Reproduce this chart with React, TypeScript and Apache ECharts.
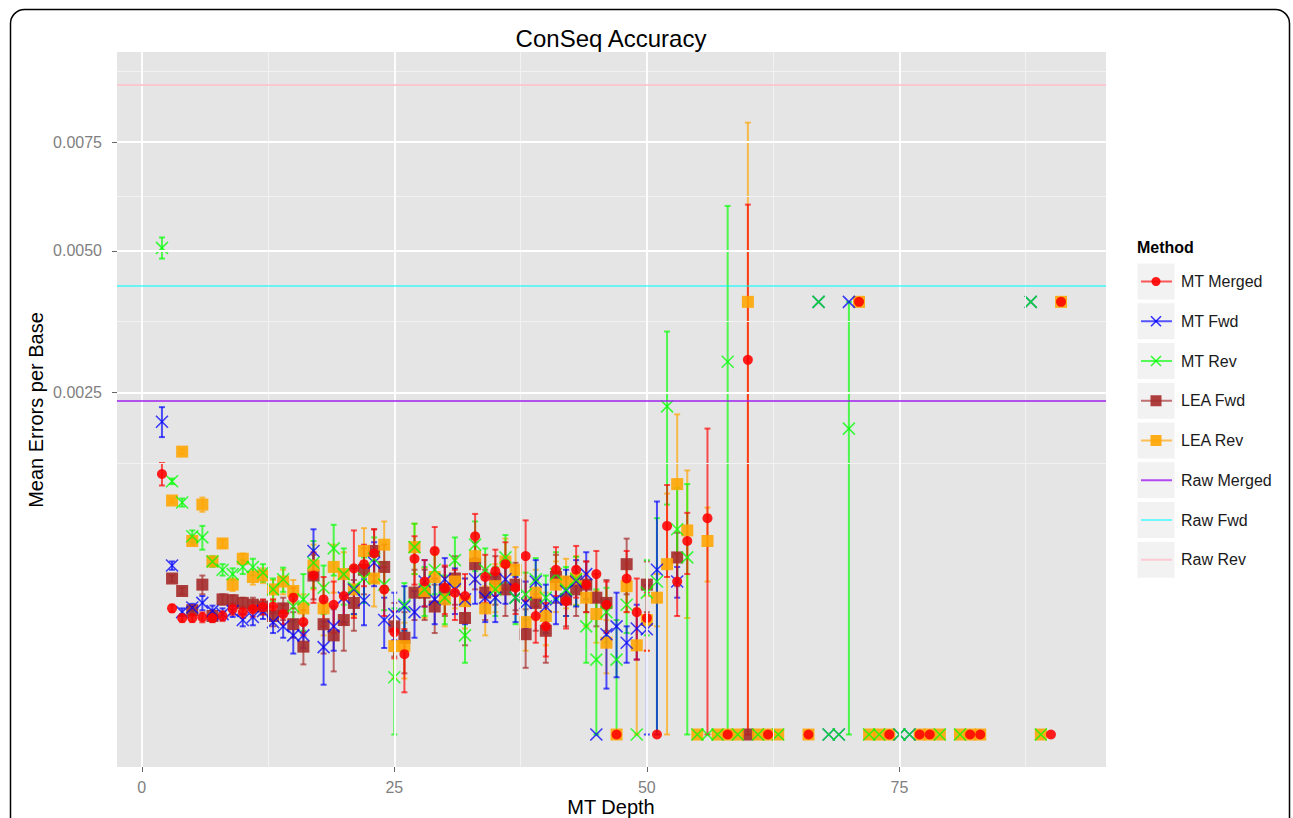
import React, { useEffect, useRef } from "react";
import * as echarts from "echarts";

// ---------------- data (Mean Errors per Base, raw values) ----------------
const mtMergedX = [2,3,4,5,6,7,8,9,10,11,12,13,14,15,16,17,18,19,20,21,22,23,24,25,26,27,28,29,30,31,32,33,34,35,36,37,38,39,40,41,42,43,44,45,46,47,48,49,50,51,52,53,54,56,58,60,62,66,71,74,77,78,82,83,90,91];
const mtMergedMean = [0.00145,0.00034,0.00029,0.00029,0.000294,0.00029,0.0003,0.000336,0.00032,0.000336,0.000347,0.00035,0.00031,0.0004,0.00027,
  0.00054,0.00039,0.00036,0.00041,0.00059,0.00062,0.0007,0.00045,0.000224,0.000138,
  0.00066,0.0005,0.00072,0.00046,0.00043,0.00041,0.00084,0.00053,0.00057,0.00062,
  0.00046,0.00068,0.0003,0.00025,0.00058,0.00038,0.00058,0.00048,0.00055,0.00036,
  0,0.00052,0.00032,0.00029,0,0.00093,0.0005,0.0008,
  0.001,0,0.003,0,0,0.004,0,0,0,0,0,0,0.004];
const mtMergedSe = [0.000125,0.00002,0.00002,0.00002,0.000025,0.00002,0.000025,0.00003,0.00003,0.00004,0.00004,0.00004,0.00005,0.00006,0.00006,
  0.00017,0.00014,0.00014,0.00015,0.0003,0.00015,0.0002,0.00015,0.0001,0.0001,
  0.00018,0.00015,0.0002,0.00015,0.00015,0.00014,0.0002,0.00016,0.00016,0.00017,
  0.00015,0.0003,0.00012,0.00012,0.00017,0.00014,0.00018,0.00016,0.00017,0.00014,
  0,0.0002,0.0002,0.00014,0,0.0004,0.0002,0.00025,
  0.001,0,0.003,0,0,0,0,0,0,0,0,0,0];

const mtFwdX = [2,3,4,5,6,7,8,9,10,11,12,13,14,15,16,17,18,19,20,21,22,23,24,25,26,27,28,29,30,31,32,33,34,35,36,37,38,39,40,41,42,43,44,45,46,47,48,49,50,51,53,67,68,69,70,75,76,88];
const mtFwdMean = [0.00209,0.00061,0.00032,0.000345,0.00037,0.000325,0.00031,0.000325,0.00028,0.000295,0.000325,0.00027,0.00025,0.00021,0.00021,
  0.00072,0.000163,0.00025,0.0004,0.00045,0.000385,0.00063,0.00028,0.00031,0.00035,
  0.00032,0.0005,0.00039,0.000515,0.00045,0.00039,0.000515,0.0004,0.0004,0.000515,
  0.0004,0.00037,0.0005,0.00035,0.00039,0.00044,0.0005,0.00055,0,0.000215,
  0.00025,0.00018,0.00024,0.000237,0.00058,
  0.0005,0.004,0,0,0.004,0,0,0.004];
const mtFwdSe = [0.0002,0.00003,0.00002,0.00002,0.00004,0.00003,0.00003,0.00003,0.00003,0.00004,0.00004,0.00005,0.00005,0.00007,0.00005,
  0.00018,0.00011,0.0001,0.00013,0.00014,0.00013,0.00016,0.00012,0.00012,0.00012,
  0.00012,0.00015,0.00013,0.00015,0.00014,0.00013,0.00015,0.00013,0.00013,0.00015,
  0.00013,0.00013,0.00015,0.00013,0.00013,0.00014,0.00015,0.00016,0,0.00017,
  0.00018,0.00007,0.00012,0.00024,0.00058,
  0.0001,0,0,0,0,0,0,0];

const mtRevX = [2,3,4,5,6,7,8,9,10,11,12,13,14,15,16,17,18,19,20,21,22,23,24,25,26,27,28,29,30,31,32,33,34,35,36,37,38,39,40,41,42,43,44,45,46,47,48,49,50,51,52,53,54,55,56,57,58,59,61,63,67,68,69,70,72,73,75,76,79,81,88,89];
const mtRevMean = [0.00506,0.00137,0.00115,0.00084,0.00083,0.00064,0.00058,0.00055,0.0006,0.0006,0.00056,0.00045,0.000515,0.00035,0.00039,
  0.00063,0.00046,0.00074,0.00055,0.00046,0.00052,0.00066,0.00048,0.00007,0.00036,
  0.00075,0.00045,0.00058,0.0004,0.00065,0.00021,0.00077,0.00058,0.00045,0.00067,
  0.0004,0.00042,0.000515,0.0004,0.00055,0.00045,0.000515,0.00025,0.00012,0.00032,
  0.00012,0.00036,0,0.00043,0.0005,0.0023,0.0009,0.00067,
  0,0,0,0.00297,0,0,0,0.004,0,0,0.002,0,0,0,0,0,0,0.004,0];
const mtRevSe = [0.00022,0.00003,0.00004,0.00005,0.0001,0.00004,0.00004,0.00004,0.00005,0.00006,0.00006,0.00007,0.00008,0.00008,0.00016,
  0.00017,0.00015,0.0002,0.00019,0.00015,0.00015,0.00017,0.00015,0.00027,0.00013,
  0.0002,0.00015,0.00016,0.00014,0.00018,0.0001,0.0002,0.00016,0.00015,0.00018,
  0.00014,0.00014,0.00015,0.00014,0.00016,0.00015,0.00016,0.00014,0.00033,0.00014,
  0.00016,0.00014,0,0.00022,0.0005,0.00117,0.0004,0.00067,
  0,0,0,0.003,0,0,0,0,0,0,0.002,0,0,0,0,0,0,0,0];

const leaFwdX = [3,4,5,6,7,8,9,10,11,12,13,14,15,16,17,18,19,20,21,22,23,24,25,26,27,28,29,30,31,32,33,34,35,36,37,38,39,40,41,42,43,44,45,46,48,50,53,60];
const leaFwdMean = [0.00052,0.00044,0.00033,0.00048,0.0003,0.00039,0.000385,0.00037,0.00036,0.00035,0.0003,0.00034,0.00026,0.000165,
  0.00054,0.00026,0.00021,0.00028,0.00037,0.00058,0.00072,0.0006,0.00025,0.0002,
  0.00043,0.00043,0.00035,0.00045,0.00052,0.00029,0.00062,0.00043,0.00052,0.00045,
  0.00048,0.000215,0.00037,0.00023,0.00053,0.00039,0.00045,0.00048,0.0004,0.00037,
  0.00062,0.00048,0.00067,0];
const leaFwdSe = [0.00002,0.00002,0.00002,0.00006,0.00003,0.00003,0.00003,0.00003,0.00004,0.00004,0.00005,0.00006,0.00006,0.00006,
  0.00015,0.00012,0.000125,0.00013,0.00014,0.00016,0.00018,0.00017,0.00012,0.00012,
  0.00015,0.00015,0.00013,0.00015,0.00016,0.00012,0.00017,0.00015,0.00016,0.00015,
  0.00015,0.00012,0.00014,0.00012,0.00016,0.00014,0.00015,0.00016,0.00015,0.00014,
  0.0002,0.00016,0.0002,0];

const leaRevX = [3,4,5,6,7,8,9,10,11,12,13,14,15,16,17,18,19,20,21,22,23,24,25,26,27,28,29,30,31,32,33,34,35,36,37,38,39,40,41,42,43,44,45,46,47,48,49,50,51,52,53,54,55,56,57,58,59,60,61,62,63,66,71,72,73,74,77,78,79,81,82,83,89,91];
const leaRevMean = [0.00117,0.00171,0.0008,0.00113,0.00064,0.00078,0.00048,0.00066,0.00053,0.00054,0.00045,0.0005,0.00044,0.00034,
  0.00061,0.00034,0.0006,0.00055,0.00045,0.00072,0.00052,0.00077,0.000167,0.000167,
  0.00075,0.00044,0.00053,0.00039,0.0005,0.00038,0.00068,0.00034,0.00047,0.00064,
  0.00058,0.00027,0.00043,0.0003,0.00048,0.0005,0.00052,0.0004,0.00031,0.00018,
  0,0.00047,0.00017,0.00028,0.0004,0.00062,0.00134,0.00089,0,0.0008,
  0,0,0,0.004,0,0,0,0,0.004,0,0,0,0,0,0,0,0,0,0,0.004];
const leaRevSe = [0.00002,0.00003,0.00003,0.00007,0.00003,0.00003,0.00004,0.00004,0.00005,0.00005,0.00006,0.00008,0.00007,0.00008,
  0.00016,0.00013,0.00017,0.00016,0.00015,0.00019,0.00017,0.0002,0.0001,0.0001,
  0.0002,0.00015,0.00016,0.00014,0.00016,0.00014,0.00018,0.00013,0.00015,0.00018,
  0.00017,0.00012,0.00015,0.00013,0.00016,0.00016,0.00016,0.00015,0.00013,0.0001,
  0,0.00015,0.00017,0.00013,0.00015,0.00062,0.00085,0.0006,0,0.0003,
  0,0,0,0.004,0,0,0,0,0,0,0,0,0,0,0,0,0,0,0,0];

const rawMerged = 0.00238;
const rawFwd = 0.0043;
const rawRev = 0.00903;

const xTicks = [0, 25, 50, 75];
const xMinorTicks = [12.5, 37.5, 62.5, 87.5];
const yTicks = [0.0025, 0.005, 0.0075];

const legendNames = ["MT Merged", "MT Fwd", "MT Rev", "LEA Fwd", "LEA Rev", "Raw Merged", "Raw Fwd", "Raw Rev"];

// ---------------- helpers ----------------
const T = (v: number) => Math.sqrt(Math.max(0, v)); // sqrt scale

const C = {
  red: "#FF0000",
  blue: "#0000FF",
  green: "#00FF00",
  brown: "#A52A2A",
  orange: "#FFA500",
  purple: "#A020F0",
  cyan: "#00FFFF",
  pink: "#FFC0CB",
};
const FONT = "'Liberation Sans', Arial, Helvetica, sans-serif";
const XPATH = "path://M0,0L10,10M10,0L0,10";

type Method = { name: string; x: number[]; mean: number[]; se: number[]; color: string; kind: string; size: number; op: number };

const methods: Method[] = [
  { name: "MT Merged", x: mtMergedX, mean: mtMergedMean, se: mtMergedSe, color: C.red, kind: "circle", size: 10, op: 0.88 },
  { name: "MT Fwd", x: mtFwdX, mean: mtFwdMean, se: mtFwdSe, color: C.blue, kind: "x", size: 12, op: 0.75 },
  { name: "MT Rev", x: mtRevX, mean: mtRevMean, se: mtRevSe, color: C.green, kind: "x", size: 12, op: 0.75 },
  { name: "LEA Fwd", x: leaFwdX, mean: leaFwdMean, se: leaFwdSe, color: C.brown, kind: "square", size: 12, op: 0.9 },
  { name: "LEA Rev", x: leaRevX, mean: leaRevMean, se: leaRevSe, color: C.orange, kind: "square", size: 12, op: 0.88 },
];

function errData(m: Method) {
  const out: number[][] = [];
  m.x.forEach((x, i) => {
    if (m.se[i] > 0) out.push([x, T(m.mean[i] - m.se[i]), T(m.mean[i] + m.se[i])]);
  });
  return out;
}
function ptData(m: Method) {
  return m.x.map((x, i) => [x, T(m.mean[i])]);
}

function buildOption() {
  const series: any[] = [];
  const minorStyle = { color: "#F2F2F2", width: 1, type: "solid" };
  const majorStyle = { color: "#FFFFFF", width: 1.8, type: "solid" };
  const yStep = T(yTicks[1]) - T(yTicks[0]);

  // grid lines (ggplot style) drawn through axis scales
  series.push({
    type: "line",
    data: [],
    z: 1,
    silent: true,
    markLine: {
      silent: true,
      precision: 10,
      symbol: ["none", "none"],
      label: { show: false },
      animation: false,
      data: [
        ...xMinorTicks.map((v) => ({ xAxis: v, lineStyle: minorStyle })),
        ...yTicks.slice(0, -1).map((v, i) => ({ yAxis: (T(v) + T(yTicks[i + 1])) / 2, lineStyle: minorStyle })),
        { yAxis: T(yTicks[0]) - yStep / 2, lineStyle: minorStyle },
        { yAxis: T(yTicks[2]) + yStep / 2, lineStyle: minorStyle },
        ...xTicks.map((v) => ({ xAxis: v, lineStyle: majorStyle })),
        ...yTicks.map((v) => ({ yAxis: T(v), lineStyle: majorStyle })),
      ],
    },
  });

  // raw reference lines
  series.push({
    type: "line",
    name: "Raw",
    data: [],
    z: 2,
    silent: true,
    markLine: {
      silent: true,
      precision: 10,
      symbol: ["none", "none"],
      label: { show: false },
      animation: false,
      data: [
        { yAxis: T(rawMerged), lineStyle: { color: C.purple, width: 2, type: "solid", opacity: 0.75 } },
        { yAxis: T(rawFwd), lineStyle: { color: C.cyan, width: 2, type: "solid", opacity: 0.55 } },
        { yAxis: T(rawRev), lineStyle: { color: C.pink, width: 2, type: "solid", opacity: 0.8 } },
      ],
    },
  });

  // error bars (reverse order so MT Merged ends on top)
  [...methods].reverse().forEach((m) => {
    series.push({
      type: "custom",
      name: m.name + " err",
      z: 3,
      silent: true,
      data: errData(m),
      encode: { x: 0, y: [1, 2] },
      renderItem: (params: any, api: any) => {
        const x = api.value(0);
        const a = api.coord([x, api.value(1)]);
        const b = api.coord([x, api.value(2)]);
        const st = { stroke: m.color, lineWidth: 2, opacity: 0.68 };
        return {
          type: "group",
          children: [
            { type: "line", shape: { x1: a[0], y1: a[1], x2: b[0], y2: b[1] }, style: st },
            { type: "line", shape: { x1: a[0] - 3, y1: a[1], x2: a[0] + 3, y2: a[1] }, style: st },
            { type: "line", shape: { x1: b[0] - 3, y1: b[1], x2: b[0] + 3, y2: b[1] }, style: st },
          ],
        };
      },
    });
  });

  // points: squares first, then X's, then circles on top
  const order = [3, 4, 1, 2, 0];
  order.forEach((idx) => {
    const m = methods[idx];
    const isX = m.kind === "x";
    series.push({
      type: "scatter",
      name: m.name,
      z: 4,
      silent: true,
      data: ptData(m),
      symbol: m.kind === "circle" ? "circle" : m.kind === "square" ? "rect" : XPATH,
      symbolSize: m.size,
      itemStyle: isX
        ? { color: "transparent", borderColor: m.color, borderWidth: 1.6, opacity: m.op }
        : { color: m.color, opacity: m.op },
    });
  });

  // legend graphics
  const lg: any[] = [];
  lg.push({
    type: "text",
    x: 1137,
    y: 247,
    style: { text: "Method", font: `bold 16px ${FONT}`, fill: "#000", textAlign: "left", align: "left", textVerticalAlign: "middle", verticalAlign: "middle" },
  });
  const legendColors = [C.red, C.blue, C.green, C.brown, C.orange, C.purple, C.cyan, C.pink];
  const legendKinds = ["circle", "x", "x", "square", "square", "line", "line", "line"];
  legendNames.forEach((name, i) => {
    const top = 263 + i * 39.75;
    const cy = top + 18.5;
    const cx = 1156;
    const col = legendColors[i];
    lg.push({ type: "rect", shape: { x: 1137, y: top, width: 38, height: 37 }, style: { fill: "#F2F2F2", stroke: "#FFFFFF", lineWidth: 1 } });
    lg.push({ type: "line", shape: { x1: 1141, y1: cy, x2: 1172, y2: cy }, style: { stroke: col, lineWidth: 2, opacity: i >= 5 ? (i === 6 ? 0.55 : 0.8) : 0.65 } });
    const k = legendKinds[i];
    if (k === "circle") lg.push({ type: "circle", shape: { cx, cy, r: 4.5 }, style: { fill: col, opacity: 0.9 } });
    if (k === "square") lg.push({ type: "rect", shape: { x: cx - 5.5, y: cy - 5.5, width: 11, height: 11 }, style: { fill: col, opacity: 0.9 } });
    if (k === "x") {
      lg.push({ type: "line", shape: { x1: cx - 5, y1: cy - 5, x2: cx + 5, y2: cy + 5 }, style: { stroke: col, lineWidth: 1.6, opacity: 0.8 } });
      lg.push({ type: "line", shape: { x1: cx - 5, y1: cy + 5, x2: cx + 5, y2: cy - 5 }, style: { stroke: col, lineWidth: 1.6, opacity: 0.8 } });
    }
    lg.push({
      type: "text",
      x: 1181,
      y: cy,
      style: { text: name, font: `16px ${FONT}`, fill: "#1A1A1A", textAlign: "left", align: "left", textVerticalAlign: "middle", verticalAlign: "middle" },
    });
  });

  const graphic: any[] = [
    {
      type: "rect",
      shape: { x: 10.5, y: 9.5, width: 1279, height: 860, r: 14 },
      style: { fill: "none", stroke: "#000", lineWidth: 1.5 },
      z: 100,
      silent: true,
    },
    {
      type: "text",
      x: 611,
      y: 38,
      style: { text: "ConSeq Accuracy", font: `24px ${FONT}`, fill: "#000", textAlign: "center", align: "center", textVerticalAlign: "middle", verticalAlign: "middle" },
    },
    {
      type: "text",
      x: 611,
      y: 807,
      style: { text: "MT Depth", font: `20px ${FONT}`, fill: "#000", textAlign: "center", align: "center", textVerticalAlign: "middle", verticalAlign: "middle" },
    },
    {
      type: "text",
      x: 36,
      y: 410,
      rotation: Math.PI / 2,
      style: { text: "Mean Errors per Base", font: `20px ${FONT}`, fill: "#000", textAlign: "center", align: "center", textVerticalAlign: "middle", verticalAlign: "middle" },
    },
    ...lg,
  ];

  const yMin = -0.00475;
  const yMax = 0.09977;

  return {
    animation: false,
    backgroundColor: "#FFFFFF",
    grid: {
      left: 117,
      top: 52,
      width: 989,
      height: 715,
      show: true,
      backgroundColor: "#E5E5E5",
      borderWidth: 0,
      containLabel: false,
    },
    xAxis: {
      type: "value",
      min: -2.45,
      max: 95.45,
      axisLine: { show: false, onZero: false },
      splitLine: { show: false },
      axisTick: { show: true, customValues: xTicks, length: 5, lineStyle: { color: "#666", width: 1 } },
      axisLabel: { customValues: xTicks, color: "#7F7F7F", fontSize: 16, fontFamily: FONT, margin: 12 },
    },
    yAxis: {
      type: "value",
      min: yMin,
      max: yMax,
      axisLine: { show: false, onZero: false },
      splitLine: { show: false },
      axisTick: { show: true, customValues: yTicks.map(T), length: 5, lineStyle: { color: "#666", width: 1 } },
      axisLabel: {
        customValues: yTicks.map(T),
        color: "#7F7F7F",
        fontSize: 16,
        fontFamily: FONT,
        margin: 15,
        formatter: (v: number) => (v * v).toFixed(4),
      },
    },
    graphic,
    series,
  };
}

export default function App() {
  const ref = useRef<HTMLDivElement>(null);
  useEffect(() => {
    if (!ref.current) return;
    const chart = echarts.init(ref.current, undefined, { renderer: "svg" });
    chart.setOption(buildOption() as any);
    return () => chart.dispose();
  }, []);
  return (
    <div
      ref={ref}
      style={{ position: "fixed", left: 0, top: 0, width: 1293, height: 818, background: "#fff" }}
    />
  );
}
